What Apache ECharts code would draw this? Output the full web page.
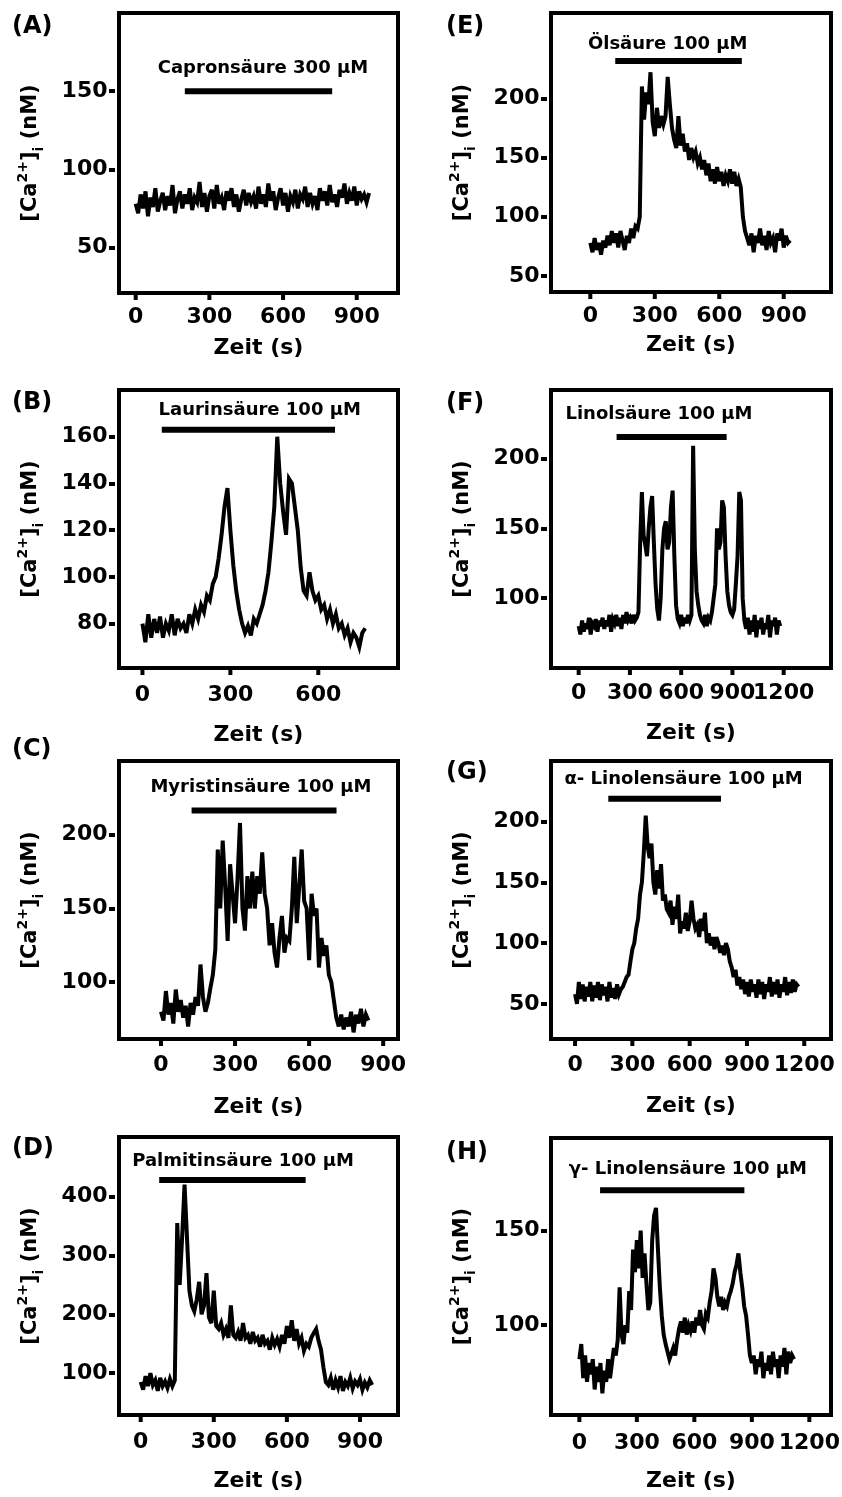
<!DOCTYPE html>
<html><head><meta charset="utf-8">
<script src="https://cdn.jsdelivr.net/npm/echarts@6/dist/echarts.min.js"></script>
<style>html,body{margin:0;padding:0;background:#fff}#c{width:842px;height:1497px}</style>
</head><body><div id="c"></div>
<script>
// sampling interval of all traces (s)
const dt = 10;

// ---- traces: [Ca2+]i (nM), one value every dt seconds, starting at t = 0 ----
const traceA = [78,72,84,75,86,70,82,76,88,73, 80,85,74,83,77,90,72,81,86,75, 84,78,88,74,82,79,92,76,85,73,
  83,87,75,90,78,82,74,86,80,88, 76,84,73,81,87,77,85,79,83,75, 89,78,84,76,91,80,86,74,82,88,
  77,85,73,83,79,87,75,84,81,89, 76,85,78,83,74,88,80,86,77,90, 79,84,76,87,82,91,78,85,80,89, 77,86,81,84,79,85];
const traceB = [80,72,84,74,82,76,83,74,80,77, 84,75,82,78,80,76,84,80,86,82, 88,85,92,90,97,100,108,118,130,138,
  120,105,94,86,80,76,79,75,82,80, 84,88,94,102,115,130,160,140,128,118, 142,140,130,120,104,94,92,102,94,90,
  92,86,88,82,86,80,84,78,80,75, 78,72,76,74,70,76,78];
const traceC = [80,74,94,78,86,72,95,80,88,76, 84,70,86,78,90,84,112,90,80,86, 96,105,122,190,150,196,165,128,180,160,
  140,170,208,150,135,172,150,175,150,172, 160,188,160,150,125,140,120,110,130,145, 120,130,128,150,185,140,165,190,155,150,
  115,160,145,150,110,130,118,125,105,100, 88,76,70,78,68,76,70,80,66,78, 72,82,70,78,74];
const traceD = [85,72,95,78,100,80,88,70,92,78, 86,75,90,78,88,355,250,330,420,330, 240,215,205,225,255,200,215,270,195,185,
  240,180,175,185,165,175,160,215,165,160, 170,155,185,160,165,150,170,155,160,145, 165,150,155,140,160,148,158,145,165,150,
  180,160,190,155,175,150,160,138,150,145, 160,168,175,155,140,110,85,80,92,72, 88,76,95,70,85,78,92,74,86,80, 90,72,84,76,88,80];
const traceE = [78,70,82,72,78,68,80,74,84,76, 88,78,86,74,88,80,72,84,78,90, 82,92,90,100,210,182,205,195,222,180,
  168,192,175,185,178,185,218,195,175,165, 158,185,160,170,155,162,148,158,150,155, 145,150,140,148,135,145,130,140,128,142,
  130,138,126,135,130,140,128,138,126,132, 125,100,88,82,76,86,70,84,78,90, 76,84,72,88,78,82,70,86,80,90, 74,84,78,80];
const traceF = [80,74,84,76,82,78,86,74,82,80, 85,76,84,80,86,78,84,80,88,76, 85,82,88,80,86,78,88,82,90,84,
  86,82,88,84,86,90,140,176,145,138, 130,150,165,173,140,110,92,84,100,135, 150,155,135,140,165,177,130,95,85,82,
  88,80,86,82,88,84,88,209,135,105, 95,88,84,82,88,80,86,84,90,100, 110,150,135,140,170,165,130,105,95,90,
  88,92,110,130,176,170,100,84,78,86, 74,84,76,88,72,84,78,86,74,82, 78,88,72,84,80,86,74,84,80];
const traceG = [58,50,68,54,66,52,64,56,68,52, 65,55,68,53,66,57,64,52,68,55, 63,54,66,58,62,64,68,72,74,85,
  95,100,112,120,140,150,175,205,180,170, 182,150,140,160,145,165,135,140,128,125, 135,115,130,120,140,108,118,112,125,110,
  118,135,120,112,115,105,120,110,125,100, 108,98,105,95,105,100,92,98,90,100, 95,85,80,72,78,65,72,62,70,58,
  68,56,70,60,66,55,70,58,68,54, 66,60,72,56,68,58,70,55,66,60, 72,57,68,59,70,60,66,64];
const traceH = [82,90,72,84,70,80,74,82,66,78, 70,80,64,76,70,82,72,80,88,84, 92,120,95,90,100,96,118,108,140,128,
  145,130,150,125,138,122,108,112,145,158, 162,140,120,105,95,90,86,82,85,88, 84,92,98,102,96,104,95,100,97,102,
  96,104,100,108,100,98,106,104,112,118, 130,125,115,110,115,108,112,110,115,118, 122,128,132,138,128,120,110,105,95,84,
  80,84,74,82,78,86,72,80,76,84, 74,86,78,82,72,84,78,88,74,86, 80,84,82];
const traces = [traceA, traceB, traceC, traceD, traceE, traceF, traceG, traceH];

// ---- application bars (s) and their level (nM) ----
const panelLetters = ['(A)','(B)','(C)','(D)','(E)','(F)','(G)','(H)'];
const barLabels = ['Capronsäure 300 µM','Laurinsäure 100 µM','Myristinsäure 100 µM','Palmitinsäure 100 µM',
  'Ölsäure 100 µM','Linolsäure 100 µM','α- Linolensäure 100 µM','γ- Linolensäure 100 µM'];
const barStart = [200, 66, 124, 76, 116, 222, 174, 108];
const barEnd   = [800, 657, 711, 677, 705, 866, 764, 861];
const barLevel = [150, 163, 216.5, 428, 231.5, 215.4, 219, 171.4];
const labelT   = [518, 400, 405, 420, 360, 470, 568, 566];
const labelC   = [164.5, 171.4, 232, 459.5, 245.7, 231.7, 235.3, 182.6];

// ---- axes: ranges and tick labels ----
const xMin = [-68, -80, -170, -89, -183, -162, -126, -148];
const xMax = [1068, 872, 960, 1056, 1120, 1477, 1340, 1313];
const yMin = [21, 61, 61.5, 29, 36.5, 50, 21, 52.5];
const yMax = [200, 180, 250, 501, 272, 249, 250, 199];
const xTicks = [[0,300,600,900],[0,300,600],[0,300,600,900],[0,300,600,900],
  [0,300,600,900],[0,300,600,900,1200],[0,300,600,900,1200],[0,300,600,900,1200]];
const yTicks = [[50,100,150],[80,100,120,140,160],[100,150,200],[100,200,300,400],
  [50,100,150,200],[100,150,200],[50,100,150,200],[100,150]];
const xTitle = 'Zeit (s)';

// ---- layout (pixels) ----
const gridRects = [
  {left:119, top:13, width:279, height:280},
  {left:119, top:390, width:279, height:278},
  {left:119, top:761, width:279, height:278},
  {left:119, top:1137, width:279, height:278},
  {left:551, top:13, width:280, height:279},
  {left:551, top:390, width:280, height:278},
  {left:551, top:761, width:280, height:278},
  {left:551, top:1138, width:280, height:277}
];
const letterPos = [[12,14],[12,390],[12,737],[12,1136],[446,14],[446,391],[446,760],[446,1140]];
const xLabelDrop = [22, 25, 24, 25.7, 22.7, 23.3, 24, 26];   // tick-label centre below axis line
const xNameGap = [42, 54, 55, 53.4, 40, 52, 54.7, 53.4];

const FONT = 'DejaVu Sans';
const option = {animation:false, title:[], grid:[], xAxis:[], yAxis:[], series:[]};

for (let p = 0; p < 8; p++) {
  option.title.push({text: panelLetters[p], left: letterPos[p][0], top: letterPos[p][1], padding: 0,
    textStyle:{fontFamily:FONT, fontWeight:'bold', fontSize:24, lineHeight:26, color:'#000'}});
  option.grid.push(Object.assign({show:true, borderColor:'#000', borderWidth:4, backgroundColor:'transparent',
    outerBoundsMode:'none'}, gridRects[p]));
  option.xAxis.push({type:'value', gridIndex:p, min:xMin[p], max:xMax[p], position:'bottom', offset:2,
    axisLine:{show:false, onZero:false}, splitLine:{show:false},
    axisTick:{show:false}, axisLabel:{show:false},
    name:xTitle, nameLocation:'middle', nameGap:xNameGap[p], nameMoveOverlap:false,
    nameTextStyle:{color:'#000', fontFamily:FONT, fontWeight:'bold', fontSize:22}});
  option.yAxis.push({type:'value', gridIndex:p, min:yMin[p], max:yMax[p], position:'left', offset:4,
    axisLine:{show:false, onZero:false}, splitLine:{show:false},
    axisTick:{show:true, length:6, customValues:yTicks[p], lineStyle:{color:'#000', width:4}},
    axisLabel:{customValues:yTicks[p], margin:7.5, color:'#000', fontFamily:FONT, fontWeight:'bold', fontSize:22},
    name:'{a|[Ca}{s|2+}{a|]}{i|i}{a| (nM)}', nameLocation:'middle', nameRotate:90, nameGap:69,
    nameTextStyle:{color:'#000', rich:{
      a:{fontFamily:FONT, fontWeight:'bold', fontSize:21, lineHeight:30, color:'#000'},
      s:{fontFamily:FONT, fontWeight:'bold', fontSize:14, lineHeight:14, verticalAlign:'top', color:'#000'},
      i:{fontFamily:FONT, fontWeight:'bold', fontSize:14, lineHeight:14, verticalAlign:'bottom', color:'#000'}
    }}});
  option.series.push({type:'line', xAxisIndex:p, yAxisIndex:p, symbol:'none', silent:true,
    data: traces[p].map((v,i)=>[i*dt, v]),
    lineStyle:{color:'#000', width:4, join:'miter', miterLimit:4}});
  option.series.push({type:'line', xAxisIndex:p, yAxisIndex:p, symbol:'none', silent:true,
    data:[[barStart[p], barLevel[p]],[barEnd[p], barLevel[p]]],
    lineStyle:{color:'#000', width:6, cap:'butt'}});
  option.series.push({type:'scatter', xAxisIndex:p, yAxisIndex:p, symbolSize:0, silent:true,
    itemStyle:{opacity:1},
    data:[[labelT[p], labelC[p]]],
    label:{show:true, position:'inside', formatter:barLabels[p], color:'#000', opacity:1,
      fontFamily:FONT, fontWeight:'bold', fontSize:18}});
  // x-axis tick marks and tick labels, placed through the x scale on the bottom edge of the frame
  const drop = xLabelDrop[p];
  option.series.push({type:'custom', xAxisIndex:p, yAxisIndex:p, silent:true, clip:false, z:20,
    data: xTicks[p].map(t=>[t, yMin[p]]),
    renderItem: function(params, api){
      const t = api.value(0);
      const pt = api.coord([t, api.value(1)]);
      return {type:'group', children:[
        {type:'rect', shape:{x:pt[0]-2, y:pt[1]+1, width:4, height:6}, style:{fill:'#000'}},
        {type:'text', x:pt[0], y:pt[1]+2+drop, style:{text:String(t), fill:'#000',
          fontFamily:FONT, fontWeight:'bold', fontSize:22, align:'center', verticalAlign:'middle'}}
      ]};
    }});
}

const chart = echarts.init(document.getElementById('c'), null, {renderer:'canvas'});
chart.setOption(option);
</script></body></html>
